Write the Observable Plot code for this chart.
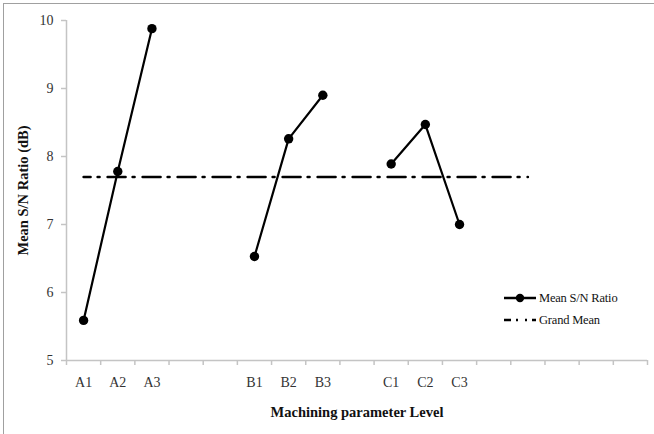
<!DOCTYPE html>
<html>
<head>
<meta charset="utf-8">
<script src="https://cdn.jsdelivr.net/npm/d3@7"></script>
<script src="https://cdn.jsdelivr.net/npm/@observablehq/plot@0.6"></script>
<style>
  body { margin: 0; background: #fff; }
  #wrap { position: relative; width: 654px; height: 434px; overflow: hidden;
          font-family: "Liberation Serif", "Times New Roman", serif; }
  #frame { position: absolute; left: 3px; top: 3px; width: 700px; height: 500px;
           border-top: 1.5px solid #a0a0a0; border-left: 1.5px solid #a0a0a0; pointer-events: none; }
  #legend { position: absolute; left: 503px; top: 287px; font-size: 12.5px; color: #111; letter-spacing: -0.2px; }
  #legend .row { display: flex; align-items: center; height: 22px; }
  #legend svg { margin-right: 2px; }
</style>
</head>
<body>
<div id="wrap">
  <div id="chart"></div>
  <div id="frame"></div>
  <div id="legend"></div>
</div>
<script>
// Category slots along the x axis (blank slots separate the factors)
const levels = ["A1", "A2", "A3", "", "", "B1", "B2", "B3", "", "C1", "C2", "C3", "", "", "", "", ""];
// Mean S/N ratio (dB) for each factor level
const factorA = [5.59, 7.78, 9.88];
const factorB = [6.53, 8.26, 8.90];
const factorC = [7.89, 8.47, 7.00];
const factorLevels = {A: ["A1", "A2", "A3"], B: ["B1", "B2", "B3"], C: ["C1", "C2", "C3"]};
// Grand mean of the S/N ratio and the slots the reference line covers
const grandMean = 7.70;
const grandMeanFrom = 0, grandMeanTo = 13;
const yTicks = [5, 6, 7, 8, 9, 10];

const slot = (name) => levels.indexOf(name) + 0.5;
const points = [
  ...factorA.map((v, i) => ({factor: "A", level: factorLevels.A[i], value: v})),
  ...factorB.map((v, i) => ({factor: "B", level: factorLevels.B[i], value: v})),
  ...factorC.map((v, i) => ({factor: "C", level: factorLevels.C[i], value: v}))
].map(d => ({...d, pos: slot(d.level)}));
const meanLine = [grandMeanFrom, grandMeanTo].map(i => ({pos: i + 0.5, value: grandMean}));

const axisGray = "#c4c4c4";
const dashPattern = "18,7,2,8";

const chart = Plot.plot({
  width: 654,
  height: 434,
  marginLeft: 66,
  marginRight: 7,
  marginTop: 20,
  marginBottom: 74,
  style: {fontFamily: '"Liberation Serif", "Times New Roman", serif', background: "#fff", overflow: "visible"},
  x: {domain: [0, levels.length], axis: null},
  y: {domain: [5, 10], axis: null},
  marks: [
    Plot.ruleY([5], {stroke: axisGray, strokeWidth: 1.5}),
    Plot.ruleX([0], {stroke: axisGray, strokeWidth: 1.5}),
    Plot.axisX(d3.range(levels.length + 1), {tickSize: 5, tickFormat: () => "", stroke: axisGray, strokeWidth: 1.5, label: null}),
    Plot.axisX(levels.map((d, i) => i + 0.5), {
      tickSize: 0, tickPadding: 17, tickFormat: d => levels[d - 0.5],
      fontSize: 14, fill: "#333", label: null
    }),
    Plot.axisY(yTicks, {
      tickSize: 5, tickPadding: 8, tickFormat: d => String(d),
      stroke: axisGray, strokeWidth: 1.5, fontSize: 14, fill: "#333", label: null
    }),
    Plot.text(["Machining parameter Level"], {
      frameAnchor: "bottom", dy: 52, lineAnchor: "middle",
      fontSize: 14.5, fontWeight: "bold", fill: "#111"
    }),
    Plot.text(["Mean S/N Ratio (dB)"], {
      frameAnchor: "left", dx: -43, rotate: -90, textAnchor: "middle", lineAnchor: "middle",
      fontSize: 14.5, fontWeight: "bold", fill: "#111"
    }),
    Plot.line(meanLine, {x: "pos", y: "value", stroke: "#000", strokeWidth: 2.5, strokeDasharray: dashPattern, strokeDashoffset: 11}),
    Plot.line(points, {x: "pos", y: "value", z: "factor", stroke: "#000", strokeWidth: 2.2}),
    Plot.dot(points, {x: "pos", y: "value", r: 4.7, fill: "#000"})
  ]
});
document.getElementById("chart").append(chart);

// Legend
const legend = document.getElementById("legend");
legend.innerHTML = `
  <div class="row">
    <svg width="34" height="12"><line x1="1" x2="33" y1="6" y2="6" stroke="#000" stroke-width="2.5"/><circle cx="17" cy="6" r="4.2" fill="#000"/></svg>
    <span>Mean S/N Ratio</span>
  </div>
  <div class="row">
    <svg width="34" height="12"><line x1="1" x2="33" y1="6" y2="6" stroke="#000" stroke-width="2.5" stroke-dasharray="7,5,2,7,2,5,7"/></svg>
    <span>Grand Mean</span>
  </div>`;
</script>
</body>
</html>
